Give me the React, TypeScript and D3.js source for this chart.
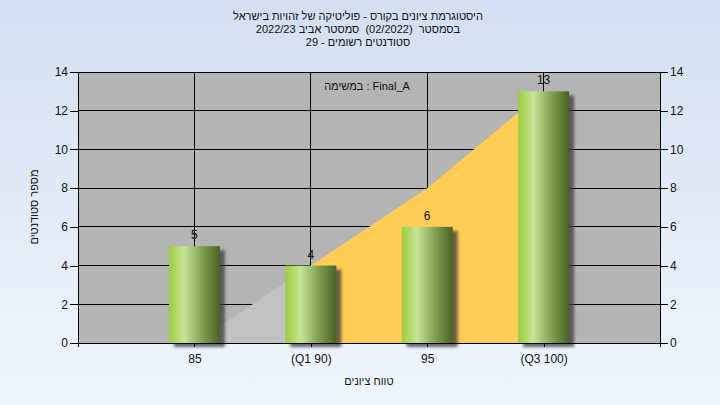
import React, { useRef, useEffect } from 'react';
import * as d3 from 'd3';

// data
const categories = ['85', '(Q1 90)', '95', '(Q3 100)'];
const counts = [5, 4, 6, 13];
const areaValues = [0, 4, 8, 13];
const yTicks = [0, 2, 4, 6, 8, 10, 12, 14];
const titleLines = [
  'היסטוגרמת ציונים בקורס - פוליטיקה של זהויות בישראל',
  'בסמסטר  (02/2022)  סמסטר אביב 2022/23',
  'סטודנטים רשומים - 29',
];
const taskLabel = 'במשימה : Final_A';
const xLabel = 'טווח ציונים';
const yLabel = 'מספר סטודנטים';

const FONT = '"Liberation Sans", "DejaVu Sans", sans-serif';

const App: React.FC = () => {
  const svgRef = useRef<SVGSVGElement>(null);

  useEffect(() => {
    if (!svgRef.current) return;
    const svg = d3.select(svgRef.current);
    svg.selectAll('*').remove();

    const width = 720;
    const height = 405;
    const plot = { left: 78, right: 660, top: 72, bottom: 343 };

    const defs = svg.append('defs');
    const bg = defs.append('linearGradient').attr('id', 'bg').attr('x1', 0).attr('y1', 0).attr('x2', 0).attr('y2', 1);
    bg.append('stop').attr('offset', 0).attr('stop-color', '#d3dff1');
    bg.append('stop').attr('offset', 1).attr('stop-color', '#eff6fd');

    const barGrad = defs.append('linearGradient').attr('id', 'barGrad').attr('x1', 0).attr('y1', 0).attr('x2', 1).attr('y2', 0);
    barGrad.append('stop').attr('offset', 0).attr('stop-color', '#9ccc3c');
    barGrad.append('stop').attr('offset', 0.3).attr('stop-color', '#c8e496');
    barGrad.append('stop').attr('offset', 0.65).attr('stop-color', '#82a052');
    barGrad.append('stop').attr('offset', 1).attr('stop-color', '#4a6224');

    const blur = defs.append('filter').attr('id', 'shadow').attr('x', '-20%').attr('y', '-20%').attr('width', '140%').attr('height', '140%');
    blur.append('feGaussianBlur').attr('stdDeviation', 1.8);

    svg.append('rect').attr('width', width).attr('height', height).attr('fill', 'url(#bg)');

    const x = d3.scalePoint<string>().domain(categories).range([plot.left, plot.right]).padding(1);
    const y = d3.scaleLinear().domain([0, 14]).range([plot.bottom, plot.top]);

    // plot background
    svg.append('rect')
      .attr('x', plot.left).attr('y', plot.top)
      .attr('width', plot.right - plot.left).attr('height', plot.bottom - plot.top)
      .attr('fill', '#b4b4b4');

    // grid
    const grid = svg.append('g').attr('stroke', '#000').attr('stroke-width', 1).attr('shape-rendering', 'crispEdges');
    grid.selectAll('.h').data(yTicks).enter().append('line')
      .attr('x1', plot.left).attr('x2', plot.right)
      .attr('y1', (d) => y(d)).attr('y2', (d) => y(d));
    grid.selectAll('.v').data(categories).enter().append('line')
      .attr('x1', (d) => x(d)!).attr('x2', (d) => x(d)!)
      .attr('y1', plot.top).attr('y2', plot.bottom);

    // area behind the bars: grey up to Q1, yellow between Q1 and Q3
    const pts = categories.map((c, i) => ({ c, v: areaValues[i] }));
    const area = d3.area<{ c: string; v: number }>()
      .x((d) => x(d.c)!)
      .y0(y(0))
      .y1((d) => y(d.v));
    svg.append('path').attr('d', area(pts.slice(0, 2))).attr('fill', '#c2c2c2');
    svg.append('path').attr('d', area(pts.slice(1))).attr('fill', '#ffcc55');

    // bars
    const bw = 51;
    svg.append('g').selectAll('rect').data(categories).enter().append('rect')
      .attr('x', (d) => x(d)! - bw / 2 + 5)
      .attr('y', (_, i) => y(counts[i]) + 4)
      .attr('width', bw).attr('height', (_, i) => y(0) - y(counts[i]))
      .attr('fill', '#3a3a3a').attr('opacity', 0.75)
      .attr('filter', 'url(#shadow)');
    svg.append('g').selectAll('rect').data(categories).enter().append('rect')
      .attr('x', (d) => x(d)! - bw / 2)
      .attr('y', (_, i) => y(counts[i]))
      .attr('width', bw).attr('height', (_, i) => y(0) - y(counts[i]))
      .attr('fill', 'url(#barGrad)');

    // value labels
    svg.append('g').selectAll('text').data(categories).enter().append('text')
      .attr('x', (d) => x(d)!).attr('y', (_, i) => y(counts[i]) - 7)
      .attr('text-anchor', 'middle').attr('font-family', FONT).attr('font-size', 12).attr('fill', '#111')
      .text((_, i) => counts[i]);

    // frame
    svg.append('path')
      .attr('d', `M${plot.left},${plot.top}V${plot.bottom + 4}M${plot.left},${plot.bottom}H${plot.right}M${plot.right},${plot.top}V${plot.bottom + 4}`)
      .attr('stroke', '#000').attr('fill', 'none').attr('shape-rendering', 'crispEdges');

    // axes
    const left = svg.append('g').attr('transform', `translate(${plot.left},0)`)
      .call(d3.axisLeft(y).tickValues(yTicks).tickSize(8).tickPadding(2));
    const right = svg.append('g').attr('transform', `translate(${plot.right},0)`)
      .call(d3.axisRight(y).tickValues(yTicks).tickSize(8).tickPadding(2));
    const bottom = svg.append('g').attr('transform', `translate(0,${plot.bottom})`)
      .call(d3.axisBottom(x).tickSize(4).tickPadding(7));
    [left, right, bottom].forEach((g) => {
      g.select('.domain').remove();
      g.selectAll('line').attr('stroke', '#000').attr('shape-rendering', 'crispEdges');
      g.selectAll('text').attr('font-family', FONT).attr('font-size', 12).attr('fill', '#111');
    });

    // titles
    titleLines.forEach((t, i) => {
      svg.append('text')
        .attr('x', 358).attr('y', 20 + i * 13)
        .attr('text-anchor', 'middle').attr('font-family', FONT).attr('font-size', 11).attr('fill', '#111')
        .style('white-space', 'pre')
        .text(t);
    });

    svg.append('text')
      .attr('x', 367).attr('y', 90)
      .attr('text-anchor', 'middle').attr('font-family', FONT).attr('font-size', 11).attr('fill', '#111')
      .text(taskLabel);

    svg.append('text')
      .attr('x', (plot.left + plot.right) / 2).attr('y', 385)
      .attr('text-anchor', 'middle').attr('font-family', FONT).attr('font-size', 11).attr('fill', '#111')
      .text(xLabel);

    svg.append('text')
      .attr('transform', `translate(38,207) rotate(-90)`)
      .attr('text-anchor', 'middle').attr('font-family', FONT).attr('font-size', 11).attr('fill', '#111')
      .text(yLabel);
  }, []);

  return (
    <svg
      ref={svgRef}
      width={720}
      height={405}
      style={{ position: 'fixed', left: 0, top: 0, display: 'block' }}
    />
  );
};

export default App;
